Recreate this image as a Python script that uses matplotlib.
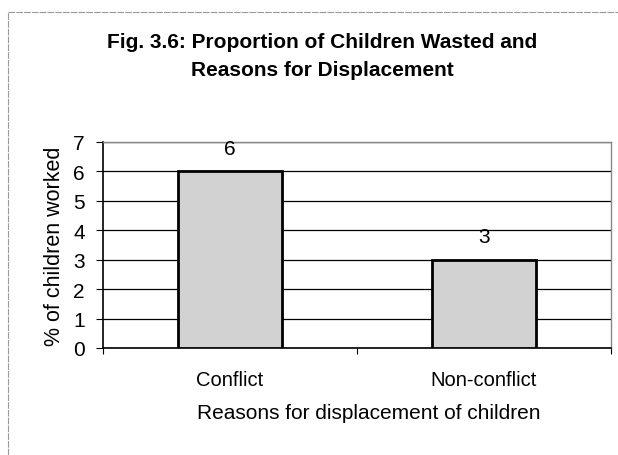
import matplotlib.pyplot as plt
from matplotlib.lines import Line2D

plt.rcParams['font.family'] = ['Liberation Sans', 'DejaVu Sans']

categories = ["Conflict", "Non-conflict"]
values = [6, 3]
yticks = [0, 1, 2, 3, 4, 5, 6, 7]

fig = plt.figure(figsize=(6.18, 4.56), dpi=100)
ax = fig.add_axes([103/618, 1 - 349/456, 508/618, 206/456])

x = range(len(categories))
ax.bar(x, values, width=0.41, color="#d2d2d2", edgecolor="black",
       linewidth=2, zorder=3)
for xi, v in zip(x, values):
    ax.text(xi, v + 0.45, str(v), ha="center", va="bottom", fontsize=15)

ax.set_xlim(-0.5, 1.5)
ax.set_ylim(0, 7)
ax.set_yticks(yticks)
ax.set_yticklabels([str(t) for t in yticks], fontsize=15)
ax.yaxis.grid(True, color="black", linewidth=0.9, zorder=0)

# category labels between boundary ticks
ax.set_xticks([-0.5, 0.5, 1.5])
ax.set_xticklabels([])
ax.set_xticks(list(x), minor=True)
ax.set_xticklabels(categories, minor=True, fontsize=14.5)
ax.tick_params(axis="x", which="minor", length=0, pad=16)
ax.tick_params(axis="x", which="major", length=4, direction="out")
ax.tick_params(axis="y", length=5, direction="out", pad=8)

ax.set_xlabel("Reasons for displacement of children", fontsize=15)
ax.xaxis.set_label_coords(0.524, -0.265)
ax.set_ylabel("% of children worked", fontsize=15.5)
ax.yaxis.set_label_coords(-0.075, 0.5)

for s in ["left", "bottom"]:
    ax.spines[s].set_color("black")
    ax.spines[s].set_linewidth(1.2)
for s in ["top", "right"]:
    ax.spines[s].set_color("#888888")
    ax.spines[s].set_linewidth(1.0)

fig.text(322/618, 1 - 42/456, "Fig. 3.6: Proportion of Children Wasted and",
         ha="center", va="center", fontsize=15, fontweight="bold")
fig.text(322/618, 1 - 70/456, "Reasons for Displacement",
         ha="center", va="center", fontsize=15, fontweight="bold")

# faint page frame
fig.add_artist(Line2D([8/618, 1], [1 - 13/456, 1 - 13/456], color="#999999",
                      linewidth=0.8, linestyle=(0, (6, 1))))
fig.add_artist(Line2D([8/618, 8/618], [0, 1 - 13/456], color="#999999",
                      linewidth=0.8, linestyle=(0, (6, 1))))

fig.savefig("out.png", dpi=100)
